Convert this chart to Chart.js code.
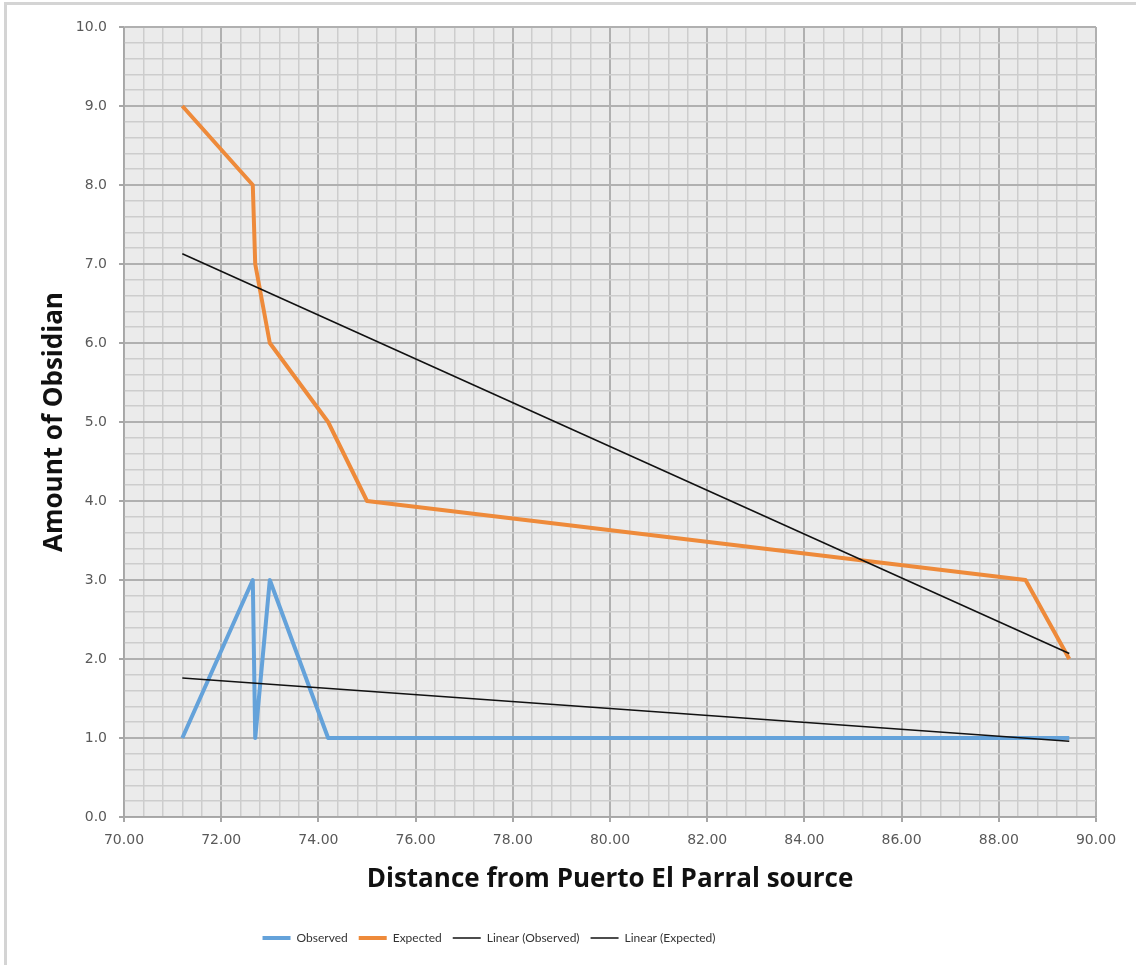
<!DOCTYPE html>
<html>
<head>
<meta charset="utf-8">
<script src="https://cdn.jsdelivr.net/npm/chart.js@4"></script>
<style>
  html, body { margin: 0; padding: 0; background: #fff; }
  #wrap { position: absolute; left: 0; top: 0; width: 1136px; height: 965px; }
  #frame { position: absolute; left: 4px; top: 2px; right: 0; bottom: 0;
           border-top: 3px solid #d4d4d4; border-left: 3px solid #d4d4d4; pointer-events: none; }
  canvas { position: absolute; left: 0; top: 0; }
</style>
</head>
<body>
<div id="wrap">
  <canvas id="obsChart" width="1136" height="965"></canvas>
  <div id="frame"></div>
</div>
<script>
// distances shared by both series
const distance = [71.2, 72.65, 72.7, 73.0, 74.2, 75.0, 88.55, 89.45];
const observed = [1, 3, 1, 3, 1, 1, 1, 1];
const expected = [9, 8, 7, 6, 5, 4, 3, 2];

// trendline end points
const trendX = [71.2, 89.45];
const trendObserved = [1.76, 0.96];
const trendExpected = [7.13, 2.07];

const seriesNames = ['Observed', 'Expected', 'Linear (Observed)', 'Linear (Expected)'];

const xMin = 70, xMax = 90, xMinor = 0.4, xMajor = 2;
const yMin = 0, yMax = 10, yMinor = 0.2, yMajor = 1;

function toPoints(xs, ys) {
  return xs.map((x, i) => ({ x: x, y: ys[i] }));
}

function isMajor(v, step) {
  const r = v / step;
  return Math.abs(r - Math.round(r)) < 1e-6;
}

function buildTicks(min, max, step) {
  const ticks = [];
  const n = Math.round((max - min) / step);
  for (let i = 0; i <= n; i++) {
    ticks.push({ value: +(min + i * step).toFixed(4) });
  }
  return ticks;
}

const plotBg = {
  id: 'plotBg',
  afterLayout(chart) {
    // legend sits a little left of centre in the original
    if (chart.legend) {
      chart.legend.left -= 59;
      chart.legend.right -= 59;
    }
  },
  beforeDraw(chart) {
    const { ctx, chartArea } = chart;
    ctx.save();
    ctx.fillStyle = '#ebebeb';
    ctx.fillRect(chartArea.left, chartArea.top, chartArea.right - chartArea.left, chartArea.bottom - chartArea.top);
    ctx.restore();
  }
};

const ctx = document.getElementById('obsChart');
new Chart(ctx, {
  type: 'line',
  data: {
    datasets: [
      {
        label: seriesNames[0],
        data: toPoints(distance, observed),
        borderColor: '#64a2da',
        backgroundColor: '#64a2da',
        borderWidth: 4,
        order: 2
      },
      {
        label: seriesNames[1],
        data: toPoints(distance, expected),
        borderColor: '#ee8a3a',
        backgroundColor: '#ee8a3a',
        borderWidth: 4,
        order: 2
      },
      {
        label: seriesNames[2],
        data: toPoints(trendX, trendObserved),
        borderColor: '#111111',
        backgroundColor: '#111111',
        borderWidth: 1.5,
        order: 1
      },
      {
        label: seriesNames[3],
        data: toPoints(trendX, trendExpected),
        borderColor: '#111111',
        backgroundColor: '#111111',
        borderWidth: 1.5,
        order: 1
      }
    ]
  },
  options: {
    responsive: false,
    animation: false,
    events: [],
    elements: {
      point: { radius: 0 },
      line: { tension: 0, borderJoinStyle: 'round', fill: false }
    },
    layout: { padding: { left: 0, right: 40, top: 27, bottom: 11 } },
    scales: {
      x: {
        type: 'linear',
        min: xMin,
        max: xMax,
        afterBuildTicks: scale => { scale.ticks = buildTicks(xMin, xMax, xMinor); },
        afterFit: scale => { scale.height = 104; },
        border: { color: '#a6a6a6', width: 1.5 },
        grid: {
          color: c => isMajor(c.tick.value, xMajor) ? '#b0b0b0' : '#cdcdcd',
          lineWidth: c => isMajor(c.tick.value, xMajor) ? 2 : 1.5,
          tickColor: c => isMajor(c.tick.value, xMajor) ? '#a6a6a6' : 'rgba(0,0,0,0)',
          tickLength: 5
        },
        ticks: {
          autoSkip: false,
          maxRotation: 0,
          padding: 10,
          color: '#595959',
          font: { family: 'DejaVu Sans', size: 14 },
          callback: v => isMajor(v, xMajor) ? v.toFixed(2) : ''
        },
        title: {
          display: true,
          text: 'Distance from Puerto El Parral source',
          color: '#111',
          font: { family: 'Open Sans', size: 26, weight: 'bold' },
          padding: { top: 0, bottom: 26 }
        }
      },
      y: {
        type: 'linear',
        min: yMin,
        max: yMax,
        afterBuildTicks: scale => { scale.ticks = buildTicks(yMin, yMax, yMinor); },
        afterFit: scale => { scale.width = 124; },
        border: { color: '#a6a6a6', width: 1.5 },
        grid: {
          color: c => isMajor(c.tick.value, yMajor) ? '#b0b0b0' : '#cdcdcd',
          lineWidth: c => isMajor(c.tick.value, yMajor) ? 2 : 1.5,
          tickColor: c => isMajor(c.tick.value, yMajor) ? '#a6a6a6' : 'rgba(0,0,0,0)',
          tickLength: 5
        },
        ticks: {
          autoSkip: false,
          padding: 12,
          color: '#595959',
          font: { family: 'DejaVu Sans', size: 14 },
          callback: v => isMajor(v, yMajor) ? v.toFixed(1) : ''
        },
        title: {
          display: true,
          text: 'Amount of Obsidian',
          color: '#111',
          font: { family: 'Open Sans', size: 26, weight: 'bold' },
          padding: { top: 39, bottom: 0 }
        }
      }
    },
    plugins: {
      tooltip: { enabled: false },
      legend: {
        position: 'bottom',
        labels: {
          usePointStyle: true,
          pointStyle: 'line',
          pointStyleWidth: 28,
          padding: 11,
          color: '#333',
          font: { family: 'Lato', size: 12 },
          sort: (a, b) => a.datasetIndex - b.datasetIndex
        }
      }
    }
  },
  plugins: [plotBg]
});
</script>
</body>
</html>
